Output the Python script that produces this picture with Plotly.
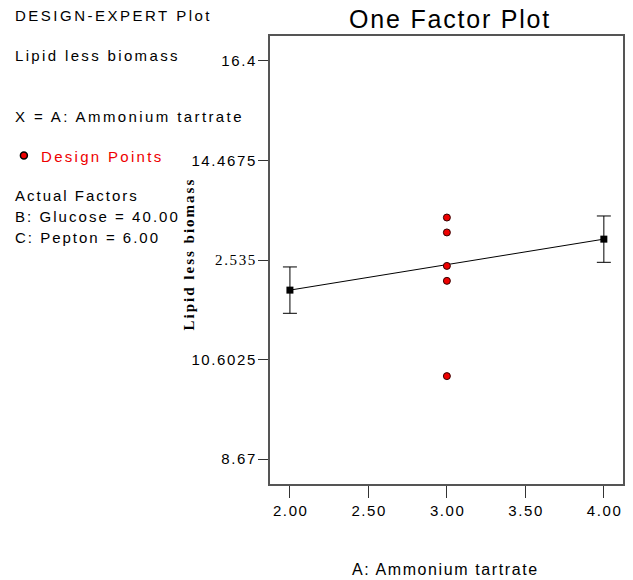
import plotly.graph_objects as go

# Data
factor_levels = [2.0, 4.0]
predicted = [11.95, 12.94]
ci_half = [0.45, 0.45]
design_x = [3.0, 3.0, 3.0, 3.0, 3.0]
design_y = [13.36, 13.07, 12.42, 12.13, 10.28]
y_tick_vals = [16.4, 14.4675, 12.535, 10.6025, 8.67]
y_tick_labels = ["16.4", "14.4675", "2.535", "10.6025", "8.67"]
x_tick_vals = [2.0, 2.5, 3.0, 3.5, 4.0]
x_tick_labels = ["2.00", "2.50", "3.00", "3.50", "4.00"]

W, H = 633, 580
L, R, T, B = 270, 625, 36, 484

def px(x):
    return (x - L) / (R - L)

def py(y):
    return (B - y) / (B - T)

def ls(s, sp=2.4, extra=""):
    return f"<span style='letter-spacing:{sp}px;{extra}'>{s}</span>"

def ls_tick(s, sp=1.6, extra=""):
    return ls(s[:-1], sp, extra) + (f"<span style='{extra}'>{s[-1]}</span>" if extra else s[-1])

y_tick_text = [ls_tick(t, 1.6, "font-family:Liberation Serif" if t == "2.535" else "") for t in y_tick_labels]
x_tick_text = [ls_tick(t, 1.6) for t in x_tick_labels]

fig = go.Figure()
fig.add_trace(go.Scatter(
    x=factor_levels, y=predicted, mode="lines+markers",
    line=dict(color="black", width=1),
    marker=dict(symbol="square", size=7, color="black"),
    error_y=dict(type="data", array=ci_half, color="black", thickness=1, width=7),
    showlegend=False, hoverinfo="skip"))
fig.add_trace(go.Scatter(
    x=design_x, y=design_y, mode="markers",
    marker=dict(symbol="circle", size=7, color="#ee0000", line=dict(color="#330000", width=1)),
    showlegend=False))

font_sans = "Liberation Sans, Arial, sans-serif"
ann = []
def text(x, y, s, size=15, color="black", xanchor="left", family=font_sans, sp=2.4, **kw):
    ann.append(dict(x=px(x), y=py(y), xref="paper", yref="paper", text=ls(s, sp), showarrow=False,
                    xanchor=xanchor, yanchor="middle", font=dict(size=size, color=color, family=family), **kw))

text(12, 16, "DESIGN-EXPERT Plot", sp=2.5)
text(12, 56, "Lipid less biomass", sp=2.35)
text(12, 116, "X = A: Ammonium tartrate", sp=2.4)
text(38, 156, "Design Points", color="#ee0000", sp=2.3)
text(12, 196, "Actual Factors", sp=2.0)
text(12, 216, "B: Glucose = 40.00", sp=2.05)
text(12, 237, "C: Pepton = 6.00", sp=2.0)
text(451, 19, "One Factor Plot", size=25, xanchor="center", sp=1.8)
text(446, 569, "A: Ammonium tartrate", size=16, xanchor="center", sp=1.6)
text(189, 254, "<b>Lipid less biomass</b>", size=15, xanchor="center",
     family="Liberation Serif, Times New Roman, serif", textangle=-90, sp=2.0)

fig.update_layout(
    width=W, height=H,
    margin=dict(l=L, r=W - R, t=T, b=H - B, pad=0),
    paper_bgcolor="white", plot_bgcolor="white",
    annotations=ann,
    shapes=[dict(type="circle", xref="paper", yref="paper",
                 x0=px(19), x1=px(26), y0=py(159), y1=py(152),
                 fillcolor="#ee0000", line=dict(color="black", width=1.5))],
    xaxis=dict(range=[1.873, 4.122], tickvals=x_tick_vals, ticktext=x_tick_text,
               showgrid=False, zeroline=False, showline=True, mirror=True,
               linecolor="#555", linewidth=1.5, ticks="outside", ticklen=12, tickcolor="#333",
               tickfont=dict(size=15, family=font_sans, color="black")),
    yaxis=dict(range=[8.185, 16.885], tickvals=y_tick_vals, ticktext=y_tick_text,
               showgrid=False, zeroline=False, showline=True, mirror=True,
               linecolor="#555", linewidth=1.5, ticks="outside", ticklen=10, tickcolor="#333",
               tickfont=dict(size=15, family=font_sans, color="black")),
)
fig.write_html("out.html", config={"displayModeBar": False},
               post_script="document.body.style.margin='0px';")
